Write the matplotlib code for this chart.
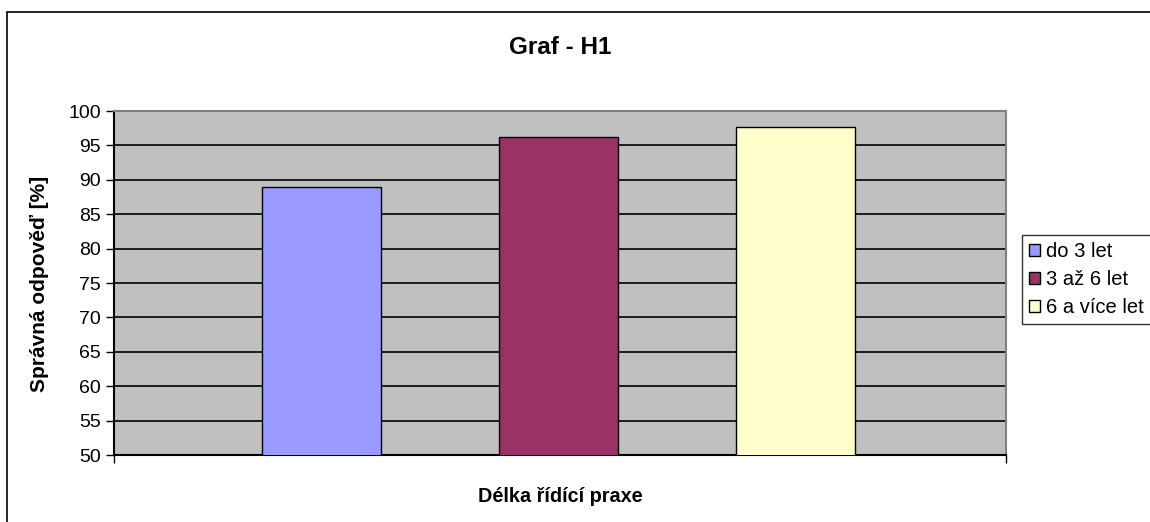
import matplotlib.pyplot as plt
from matplotlib.patches import Rectangle

plt.rcParams['font.family'] = ['Liberation Sans', 'DejaVu Sans']

series = ['do 3 let', '3 až 6 let', '6 a více let']
values = [88.9, 96.2, 97.7]
colors = ['#9999FF', '#993366', '#FFFFCC']
yticks = list(range(50, 101, 5))

fig = plt.figure(figsize=(11.5, 5.22), dpi=100)
ax = fig.add_axes([114 / 1150, 1 - 455 / 522, (1006 - 114) / 1150, (455 - 111) / 522])

# outer chart border
fig.patches.append(Rectangle((7 / 1150, -0.05), 1.2, 1 - 12 / 522 + 0.05,
                             transform=fig.transFigure, fill=False,
                             edgecolor='black', linewidth=1.2))

ax.set_facecolor('#C0C0C0')
for i in range(len(series)):
    ax.bar(i, values[i], width=0.502, bottom=0, color=colors[i],
           edgecolor='black', linewidth=1, label=series[i], zorder=3)

ax.set_ylim(50, 100)
ax.set_xlim(-0.875, 2.888)
ax.set_yticks(yticks)
ax.set_yticklabels([str(t) for t in yticks], fontsize=14)
ax.set_xticks([-0.875, 2.888])
ax.set_xticklabels(['', ''])
ax.tick_params(axis='both', direction='out', length=6, width=1, color='black')
ax.yaxis.grid(True, color='black', linewidth=1.2, zorder=1)
ax.set_axisbelow(True)

ax.spines['left'].set_color('black')
ax.spines['bottom'].set_color('black')
ax.spines['top'].set_color('#808080')
ax.spines['right'].set_color('#808080')
for s in ax.spines.values():
    s.set_linewidth(1.5)

fig.text(560 / 1150, 1 - 48 / 522, 'Graf - H1', ha='center', va='center',
         fontsize=17.5, fontweight='bold')
fig.text(560 / 1150, 1 - 497 / 522, 'Délka řídící praxe', ha='center', va='center',
         fontsize=14.3, fontweight='bold')
fig.text(40 / 1150, 1 - 284 / 522, 'Správná odpověď [%]', ha='center', va='center',
         fontsize=15, fontweight='bold', rotation=90)

leg = fig.legend(loc='upper left', bbox_to_anchor=(1022 / 1150, 1 - 235 / 522),
                 fontsize=14.5, frameon=True, fancybox=False, shadow=False,
                 handlelength=0.55, handleheight=0.55, handletextpad=0.3,
                 labelspacing=0.45, borderpad=0.35, borderaxespad=0)
leg.get_frame().set_edgecolor('black')
leg.get_frame().set_linewidth(1)

fig.savefig('out.png', dpi=100)
